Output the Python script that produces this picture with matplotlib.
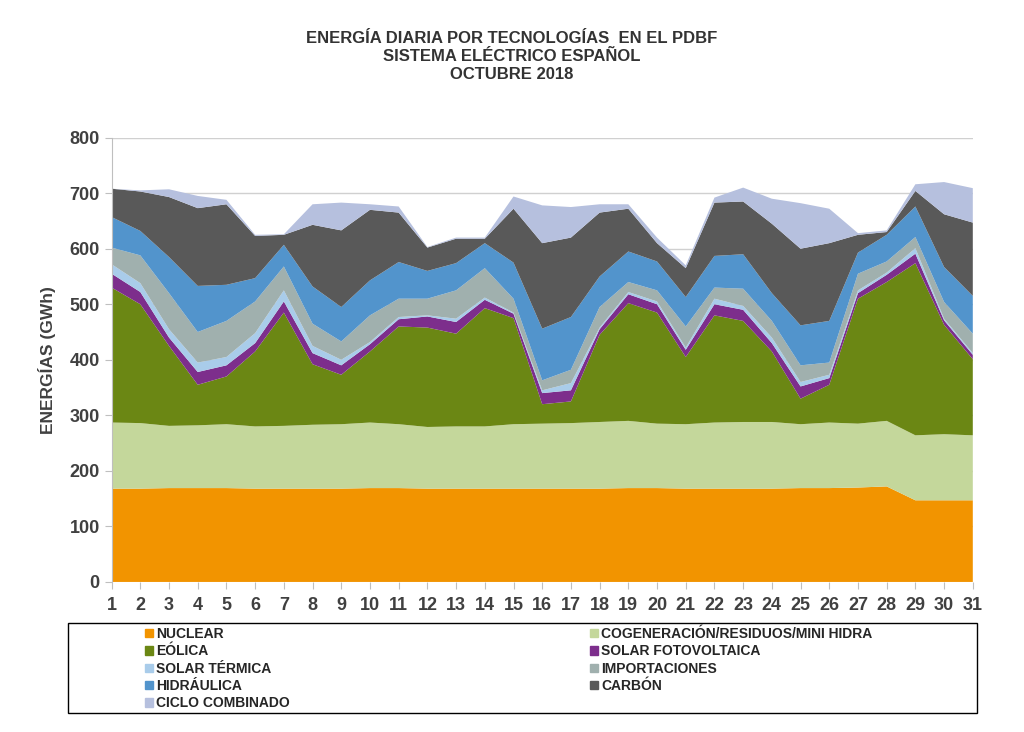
import matplotlib.pyplot as plt
from matplotlib.patches import Patch, Rectangle

plt.rcParams['font.family'] = ['Liberation Sans', 'DejaVu Sans']

# dias del mes
days = list(range(1, 32))

# energia diaria por tecnologia (GWh)
nuclear = [168, 168, 169, 169, 169, 168, 168, 168, 168, 169, 169, 168, 168, 168, 168, 168,
           168, 168, 169, 169, 168, 168, 168, 168, 169, 169, 170, 172, 147, 147, 147]
cogeneracion = [119, 118, 112, 113, 115, 112, 113, 115, 116, 118, 115, 111, 112, 112, 116, 117,
                118, 120, 121, 116, 116, 119, 120, 120, 115, 118, 115, 118, 117, 119, 117]
eolica = [243, 214, 144, 73, 86, 135, 204, 109, 89, 128, 176, 179, 167, 213, 191, 35,
          39, 157, 212, 200, 121, 193, 182, 127, 46, 68, 225, 250, 310, 197, 137]
solar_fv = [25, 22, 15, 23, 20, 15, 20, 20, 17, 13, 13, 20, 21, 15, 8, 20,
            20, 10, 16, 15, 13, 20, 20, 15, 22, 12, 10, 13, 17, 8, 8]
solar_termica = [17, 16, 15, 17, 15, 18, 20, 13, 10, 4, 4, 2, 6, 4, 2, 5,
                 13, 3, 4, 5, 4, 10, 7, 10, 8, 6, 5, 4, 10, 3, 3]
importaciones = [30, 50, 65, 55, 65, 57, 43, 40, 33, 48, 33, 30, 51, 53, 25, 18,
                 24, 37, 18, 20, 38, 20, 31, 30, 30, 22, 30, 20, 20, 30, 35]
hidraulica = [55, 44, 65, 83, 65, 42, 39, 67, 62, 63, 66, 50, 49, 45, 65, 93,
              95, 55, 55, 52, 53, 57, 62, 50, 72, 75, 38, 48, 55, 63, 68]
carbon = [51, 71, 108, 140, 145, 76, 18, 111, 138, 127, 89, 42, 44, 8, 97, 154,
          143, 115, 77, 33, 52, 96, 95, 125, 138, 140, 32, 5, 28, 95, 132]
ciclo = [0, 2, 14, 22, 8, 2, 1, 37, 50, 10, 11, 1, 2, 2, 22, 68,
         55, 15, 8, 10, 5, 9, 25, 45, 82, 62, 3, 3, 12, 58, 62]

labels = ['NUCLEAR', 'COGENERACIÓN/RESIDUOS/MINI HIDRA', 'EÓLICA', 'SOLAR FOTOVOLTAICA',
          'SOLAR TÉRMICA', 'IMPORTACIONES', 'HIDRÁULICA', 'CARBÓN', 'CICLO COMBINADO']
colors = ['#F29400', '#C4D79B', '#6B8714', '#7D2E8C', '#A9CCEA',
          '#A0B0AE', '#5294CC', '#595959', '#B6C0DE']

fig = plt.figure(figsize=(10.24, 7.32), dpi=100)
ax = fig.add_axes([0.109, 0.205, 0.841, 0.607])

ax.stackplot(days, nuclear, cogeneracion, eolica, solar_fv, solar_termica,
             importaciones, hidraulica, carbon, ciclo, colors=colors, linewidth=0)

ax.set_xlim(1, 31)
ax.set_ylim(0, 800)
ax.set_xticks(days)
ax.set_yticks(range(0, 801, 100))
ax.grid(axis='y', color='#D0D0D0', linewidth=1)
ax.set_axisbelow(True)
for s in ['top', 'right', 'bottom']:
    ax.spines[s].set_visible(False)
ax.spines['left'].set_color('#BFBFBF')
ax.tick_params(axis='both', colors='#BFBFBF', length=5, labelcolor='#404040',
               labelsize=13)
ax.tick_params(axis='x', pad=6)
for t in ax.get_xticklabels() + ax.get_yticklabels():
    t.set_fontweight('bold')

ax.set_ylabel('ENERGÍAS (GWh)', fontsize=12.5, fontweight='bold', color='#404040',
              labelpad=10)

fig.text(0.5, 0.958, 'ENERGÍA DIARIA POR TECNOLOGÍAS  EN EL PDBF\nSISTEMA ELÉCTRICO ESPAÑOL\nOCTUBRE 2018',
         ha='center', va='top', fontsize=12, fontweight='bold', color='#333333',
         linespacing=1.28)

# recuadro de la leyenda
fig.patches.append(Rectangle((68 / 1024, 1 - 713 / 732), 909 / 1024, 90 / 732,
                             transform=fig.transFigure, fill=False,
                             edgecolor='#000000', linewidth=1))

handles = [Patch(color=c) for c in colors]
left_idx = [0, 2, 4, 6, 8]
right_idx = [1, 3, 5, 7]
for idx, xpos in [(left_idx, 138 / 1024), (right_idx, 583 / 1024)]:
    leg = fig.legend([handles[i] for i in idx], [labels[i] for i in idx],
                     loc='upper left', bbox_to_anchor=(xpos, 1 - 620 / 732),
                     frameon=False, handlelength=0.55, handleheight=0.55,
                     handletextpad=0.25, labelspacing=0.24, borderpad=0,
                     prop={'size': 10, 'weight': 'bold'})
    for t in leg.get_texts():
        t.set_color('#262626')

fig.savefig('out.png', dpi=100)
